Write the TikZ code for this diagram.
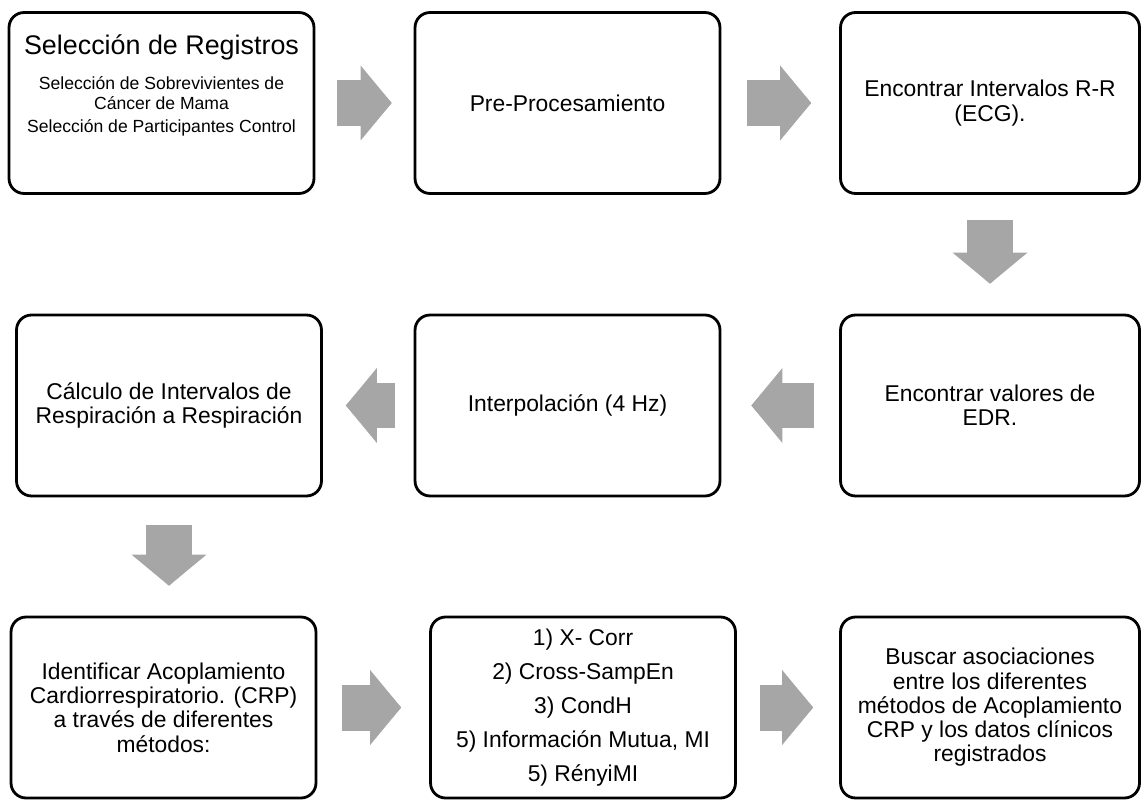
\documentclass[tikz,border=0pt]{standalone}
\usepackage{fontspec}
\setmainfont{Liberation Sans}
\usepackage[HTML]{xcolor}
\usetikzlibrary{positioning, arrows.meta}
\definecolor{arrowgray}{HTML}{A6A6A6}

\begin{document}
\begin{tikzpicture}[x=0.02cm, y=-0.02cm,
  box/.style={draw, line width=1.6pt, rounded corners=0.3cm, fill=white, minimum width=6.1cm, minimum height=3.62cm, align=center, inner sep=0pt, font=\fontsize{13}{13.8}\selectfont},
  rbox/.style={box, minimum width=5.98cm},
  fat/.style={draw=arrowgray, line width=0.92cm, -{Triangle[length=0.62cm, width=1.5cm, line width=0pt]},
    preaction={draw=arrowgray, line width=0.92cm, -{Triangle[length=0.4cm, width=0.92cm, line width=0pt]}}}]
\useasboundingbox (0,0) rectangle (1141,800);
% nodes
\node[box] (selreg) at (161.5,103) {};
\node[align=center, anchor=north, inner sep=0pt, font=\fontsize{10}{11.4}\selectfont] (selregtxt) at (161.5,34)
  {{\fontsize{15.3}{18}\selectfont Selección de Registros}\\[8.5pt]Selección de Sobrevivientes de\\Cáncer de Mama\\[1.7pt]Selección de Participantes Control};
\node[box] (preproc) at (567.5,103) {Pre-Procesamiento};
\node[rbox] (intrr) at (990,103) {Encontrar Intervalos R-R\\(ECG).};
\node[rbox] (edr) at (990,405.5) {Encontrar valores de\\EDR.};
\node[box] (interp) at (567.5,405.5) {Interpolación (4 Hz)};
\node[box] (calcint) at (169,405.5) {Cálculo de Intervalos de\\Respiración a Respiración};
\node[box] (ident) at (163.5,707.5) {Identificar Acoplamiento\\Cardiorrespiratorio. (CRP)\\a través de diferentes\\métodos:};
\node[box, font=\fontsize{13}{19.3}\selectfont] (metodos) at (583,707.5) {1) X- Corr\\2) Cross-SampEn\\3) CondH\\5) Información Mutua, MI\\5) RényiMI};
\node[rbox] (asoc) at (990,707.5) {Buscar asociaciones\\entre los diferentes\\métodos de Acoplamiento\\CRP y los datos clínicos\\registrados};

% block arrows
\draw[fat, shorten <=0.44cm, shorten >=0.44cm] (selreg) -- (preproc);
\draw[fat, shorten <=0.52cm, shorten >=0.56cm] (preproc) -- (intrr);
\draw[fat, shorten <=0.5cm, shorten >=0.6cm] (intrr) -- (edr);
\draw[fat, shorten <=0.5cm, shorten >=0.6cm] (edr) -- (interp);
\draw[fat, shorten <=0.38cm, shorten >=0.46cm] (interp) -- (calcint);
\draw[fat, shorten <=0.56cm, shorten >=0.6cm] (calcint.south) -- (calcint.south |- ident.north);
\draw[fat, shorten <=0.5cm, shorten >=0.56cm] (ident) -- (metodos);
\draw[fat, shorten <=0.46cm, shorten >=0.52cm] (metodos) -- (asoc);
\end{tikzpicture}
\end{document}
